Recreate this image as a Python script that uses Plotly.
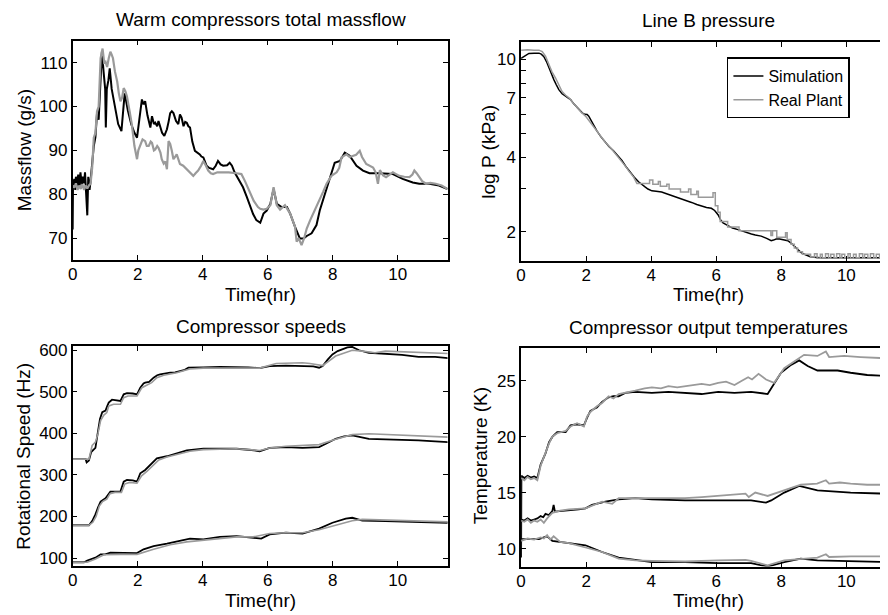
import plotly.graph_objects as go
from plotly.subplots import make_subplots

# ---------- data ----------
# Warm compressors total massflow (g/s)
mf_sim_t = [0.0, 0.01, 0.05, 0.08, 0.1, 0.14, 0.17, 0.2, 0.24, 0.28, 0.31, 0.35, 0.38, 0.41, 0.45, 0.48,
            0.52, 0.55, 0.6, 0.65, 0.7, 0.75, 0.8, 0.85, 0.9, 0.95, 1.0, 1.02, 1.05, 1.1, 1.14, 1.2, 1.3,
            1.4, 1.5, 1.56, 1.6, 1.7, 1.8, 1.9, 1.98, 2.05, 2.13, 2.18, 2.23, 2.3, 2.39, 2.44, 2.5, 2.54,
            2.6, 2.64, 2.69, 2.75, 2.82, 2.9, 2.95, 3.0, 3.05, 3.1, 3.18, 3.25, 3.3, 3.35, 3.41, 3.46,
            3.51, 3.56, 3.61, 3.68, 3.76, 3.85, 3.91, 3.96, 4.02, 4.12, 4.2, 4.32, 4.4, 4.47, 4.55, 4.63,
            4.75, 4.83, 4.9, 4.98, 5.1, 5.24, 5.35, 5.44, 5.55, 5.65, 5.77, 5.87, 5.97, 6.08, 6.18, 6.28,
            6.43, 6.59, 6.69, 6.84, 6.99, 7.1, 7.2, 7.35, 7.5, 7.6, 7.76, 7.91, 8.06, 8.22, 8.37, 8.52,
            8.73, 8.93, 9.13, 9.44, 9.85, 10.15, 10.46, 10.66, 10.97, 11.27, 11.53]
mf_sim = [72, 82, 83.5, 81, 84, 82, 84.5, 81.5, 85, 82, 84, 82.5, 85, 80, 75.2, 84,
          81, 83, 88, 91, 93, 98.5, 97, 105, 112.5, 108, 104, 95.2, 104, 106, 108.7, 104, 100,
          96, 94.4, 100, 103, 99, 96, 94, 92.9, 97, 101.6, 100.5, 101.2, 98, 95.2, 97.8, 96, 96.3,
          95.5, 96.7, 95.2, 94, 93.3, 94.8, 96.5, 98.5, 98.9, 98.5, 96.7, 96, 98.2, 97.5, 95.5, 96.5,
          96.3, 95.5, 95.2, 92, 89.9, 89.5, 89.1, 88.6, 88.4, 86.5, 86, 85.7, 86.5, 87.6, 86.8, 86.5,
          86.6, 87.2, 86.5, 85.0, 83.5, 81.6, 79.5, 77.8, 75.5, 74.1, 73.5, 75.6, 76.3, 77.8, 81.2, 77.8,
          77.1, 77.1, 75.6, 72.6, 69.9, 69.9, 70.5, 71.1, 73.0, 76.3, 80.1, 83.9, 87.2, 87.6, 89.5, 88.8,
          86.5, 85.4, 84.8, 84.8, 84.6, 83.5, 82.7, 82.4, 82.4, 82.0, 81.2]

mf_real_t = [0.0, 0.05, 0.1, 0.15, 0.2, 0.25, 0.3, 0.35, 0.4, 0.45, 0.5, 0.55, 0.6, 0.65, 0.7, 0.75,
             0.8, 0.86, 0.92, 0.97, 1.01, 1.06, 1.11, 1.16, 1.2, 1.24, 1.3, 1.37, 1.42, 1.47, 1.52, 1.57,
             1.62, 1.67, 1.75, 1.82, 1.9, 1.98, 2.02, 2.08, 2.15, 2.23, 2.28, 2.34, 2.4, 2.44, 2.5, 2.54,
             2.6, 2.64, 2.7, 2.74, 2.8, 2.85, 2.9, 2.95, 3.0, 3.05, 3.1, 3.15, 3.2, 3.25, 3.3, 3.4, 3.51,
             3.6, 3.71, 3.78, 3.86, 3.95, 4.02, 4.1, 4.17, 4.25, 4.32, 4.45, 4.63, 4.8, 5.04, 5.19, 5.3,
             5.44, 5.57, 5.7, 5.77, 5.87, 5.97, 6.08, 6.18, 6.28, 6.38, 6.53, 6.69, 6.84, 6.89, 6.95,
             7.04, 7.12, 7.2, 7.3, 7.4, 7.5, 7.6, 7.7, 7.81, 7.96, 8.12, 8.2, 8.27, 8.42, 8.52, 8.62,
             8.72, 8.83, 8.9, 9.03, 9.13, 9.24, 9.32, 9.39, 9.45, 9.49, 9.55, 9.64, 9.75, 9.85, 9.95,
             10.05, 10.2, 10.36, 10.45, 10.51, 10.58, 10.66, 10.75, 10.87, 11.0, 11.17, 11.35, 11.53]
mf_real = [82, 81.5, 82.5, 81, 82, 81.2, 82.3, 81, 82, 81.3, 82, 82.4, 86, 92.9, 94, 98.9,
           100, 111, 113.2, 110, 110.2, 109, 111, 112.5, 111.8, 111, 108, 105.7, 103, 101.2, 102, 104.2,
           103.5, 102.3, 99, 95.9, 91, 88.0, 90, 91.4, 92.5, 92.1, 91, 91.0, 92, 91.7, 90, 90.2,
           91, 90.6, 89.5, 88.0, 87, 87.5, 85.7, 92.1, 91.5, 89.9, 88, 88.5, 89.1, 88, 86.9, 86.5, 85.7,
           85, 84.2, 84.8, 85.4, 86.5, 87.6, 86.5, 85.4, 84.8, 84.6, 85, 85.0, 85, 84.8, 84.6, 83,
           80.8, 78.5, 77.1, 76.7, 76.5, 76.7, 77.5, 81.6, 77.5, 76.5, 77.5, 75.6, 72.6, 69.2, 70,
           68.4, 70, 72.2, 74, 75.6, 77, 79.0, 80.5, 82.4, 84.2, 85.0, 86, 88.4, 89.1, 88.5, 88.8,
           89, 89.9, 88.5, 86.9, 86.5, 86.1, 85, 82.4, 85.5, 85.0, 84.3, 83.9, 84.5, 85, 84.6,
           84.2, 84, 83.9, 84.5, 85.4, 84.8, 83.9, 83, 82.4, 82.6, 82.4, 82, 81.2]

# Line B pressure (kPa, log axis)
p_sim_t = [0.0, 0.1, 0.24, 0.4, 0.55, 0.62, 0.7, 0.78, 0.86, 0.94, 1.01, 1.08, 1.16, 1.26, 1.37, 1.52,
           1.62, 1.72, 1.88, 1.95, 2.03, 2.08, 2.13, 2.23, 2.33, 2.45, 2.59, 2.7, 2.84, 2.97, 3.1, 3.22,
           3.35, 3.48, 3.61, 3.71, 3.81, 3.9, 4.02, 4.15, 4.32, 4.45, 4.63, 4.78, 4.93, 5.08, 5.24, 5.4,
           5.55, 5.7, 5.85, 5.95, 6.06, 6.13, 6.21, 6.36, 6.5, 6.67, 6.85, 7.08, 7.2, 7.38, 7.55, 7.69,
           7.76, 7.84, 7.95, 8.09, 8.2, 8.3, 8.4, 8.5, 8.6, 8.71, 8.8, 8.91, 9.2, 9.6, 10.0, 10.5, 11.0, 11.5]
p_sim = [10.1, 10.3, 10.57, 10.6, 10.6, 10.5, 10.25, 9.8, 9.2, 8.7, 8.26, 7.9, 7.54, 7.25, 7.08, 6.87,
         6.6, 6.37, 6.07, 5.99, 5.98, 5.88, 5.71, 5.4, 5.13, 4.86, 4.61, 4.43, 4.26, 4.08, 3.89, 3.68,
         3.49, 3.33, 3.19, 3.1, 3.04, 2.98, 2.93, 2.92, 2.90, 2.86, 2.81, 2.77, 2.73, 2.68, 2.63, 2.58,
         2.54, 2.51, 2.49, 2.44, 2.34, 2.24, 2.17, 2.11, 2.07, 2.04, 2.0, 1.96, 1.94, 1.92, 1.88, 1.84,
         1.85, 1.87, 1.87, 1.86, 1.84, 1.80, 1.75, 1.69, 1.65, 1.62, 1.6, 1.58, 1.57, 1.57, 1.57, 1.57, 1.57, 1.57]

p_real_t = [0.0, 0.2, 0.4, 0.55, 0.65, 0.75, 0.86, 0.95, 1.06, 1.16, 1.26, 1.37, 1.47, 1.6, 1.72, 1.85,
            1.98, 2.1, 2.28, 2.45, 2.59, 2.75, 2.9, 3.05, 3.2, 3.33, 3.46, 3.56,
            3.95, 3.95, 4.05, 4.05, 4.22, 4.22, 4.28, 4.28, 4.48, 4.48, 4.55, 4.55, 4.9, 4.9, 5.15, 5.15,
            5.22, 5.22, 5.4, 5.4, 5.45, 5.45, 5.9, 5.9, 5.97, 5.97, 6.05, 6.05, 6.12, 6.12, 6.35, 6.35,
            6.7, 6.7, 7.68, 7.68, 7.73, 7.73, 7.86, 7.86, 8.13, 8.13, 8.18, 8.18, 8.3, 8.3, 8.4, 8.4,
            8.5, 8.5, 8.65, 8.65, 8.9, 8.9,
            9.02, 9.02, 9.1, 9.1, 9.2, 9.2, 9.26, 9.26, 9.36, 9.36, 9.45, 9.45, 9.52, 9.52, 9.62, 9.62,
            9.7, 9.7, 9.8, 9.8, 9.86, 9.86, 9.95, 9.95, 10.05, 10.05, 10.12, 10.12, 10.22, 10.22, 10.3,
            10.3, 10.4, 10.4, 10.5, 10.5, 10.56, 10.56, 10.66, 10.66, 10.74, 10.74, 10.84, 10.84, 10.92,
            10.92, 11.02, 11.02, 11.1, 11.1, 11.2, 11.2, 11.28, 11.28, 11.5]
p_real = [10.9, 10.95, 10.9, 10.9, 10.75, 10.3, 9.5, 8.9, 8.4, 7.85, 7.4, 7.15, 6.98, 6.65, 6.37, 6.1,
          5.89, 5.6, 5.2, 4.88, 4.61, 4.38, 4.15, 3.92, 3.7, 3.5, 3.33, 3.14,
          3.14, 3.24, 3.24, 3.12, 3.12, 3.2, 3.2, 3.06, 3.06, 3.12, 3.12, 2.98, 2.98, 2.9, 2.9, 2.98,
          2.98, 2.83, 2.83, 2.92, 2.92, 2.76, 2.76, 2.88, 2.88, 2.55, 2.55, 2.4, 2.4, 2.2, 2.2, 2.09,
          2.09, 2.02, 2.02, 1.93, 1.93, 2.02, 2.02, 1.9, 1.9, 1.98, 1.98, 1.86, 1.86, 1.78, 1.78, 1.72,
          1.72, 1.66, 1.66, 1.62, 1.62, 1.58,
          1.58, 1.63, 1.63, 1.56, 1.56, 1.62, 1.62, 1.57, 1.57, 1.63, 1.63, 1.56, 1.56, 1.62, 1.62, 1.57,
          1.57, 1.63, 1.63, 1.56, 1.56, 1.62, 1.62, 1.57, 1.57, 1.63, 1.63, 1.56, 1.56, 1.62, 1.62,
          1.57, 1.57, 1.63, 1.63, 1.56, 1.56, 1.62, 1.62, 1.57, 1.57, 1.63, 1.63, 1.56, 1.56,
          1.62, 1.62, 1.57, 1.57, 1.63, 1.63, 1.56, 1.56, 1.62, 1.62]

# Compressor speeds (Hz), three compressors
sp1_sim_t = [0, 0.4, 0.43, 0.5, 0.57, 0.65, 0.7, 0.76, 0.84, 0.91, 1.01, 1.06, 1.11, 1.21, 1.35, 1.47, 1.57,
             1.67, 1.85, 1.98, 2.08, 2.18, 2.23, 2.35, 2.49, 2.6, 2.69, 2.85, 3.0, 3.15, 3.3, 3.45, 3.56,
             3.8, 4.02, 4.53, 5.04, 5.4, 5.75, 6.06, 6.56, 7.07, 7.4, 7.58, 7.69, 7.85, 7.99, 8.15, 8.3,
             8.45, 8.6, 8.81, 9.11, 9.62, 10.13, 10.64, 11.15, 11.56]
sp1_sim = [338, 338, 330, 335, 355, 362, 365, 395, 435, 451, 455, 465, 474, 481, 480, 478, 494,
           497, 496, 494, 510, 520, 522, 524, 534, 540, 542, 545, 546, 547, 550, 553, 558,
           558, 559, 560, 560, 559, 557, 562, 563, 562, 561, 558, 562, 578, 590, 598, 603,
           607, 608, 600, 594, 592, 589, 584, 584, 581]
sp1_real_t = [0, 0.5, 0.6, 0.7, 0.78, 0.86, 0.96, 1.05, 1.11, 1.26, 1.47, 1.57, 1.7, 1.98, 2.13, 2.28, 2.43,
              2.59, 2.8, 3.2, 3.6, 4.02, 5.04, 5.75, 6.26, 7.07, 7.3, 7.69, 8.09, 8.6, 8.91, 9.3, 9.62,
              10.13, 10.64, 11.15, 11.56]
sp1_real = [338, 338, 371, 379, 400, 431, 444, 450, 466, 470, 470, 486, 490, 490, 510, 516, 522,
            534, 540, 546, 555, 557, 558, 557, 568, 570, 568, 563, 586, 600, 598, 594, 598,
            596, 594, 592, 592]

sp2_sim_t = [0, 0.5, 0.6, 0.7, 0.78, 0.86, 1.01, 1.08, 1.16, 1.47, 1.57, 1.67, 1.85, 1.98, 2.08, 2.23, 2.39,
             2.5, 2.59, 2.9, 3.2, 3.51, 4.02, 5.04, 5.5, 5.75, 6.06, 6.56, 7.07, 7.58, 7.79, 8.09, 8.35,
             8.6, 9.11, 9.62, 10.13, 10.64, 11.15, 11.56]
sp2_sim = [179, 179, 189, 205, 222, 236, 244, 252, 260, 260, 284, 288, 287, 284, 304, 312, 324,
           333, 340, 345, 351, 359, 363, 363, 360, 357, 365, 367, 365, 367, 375, 387, 393,
           395, 387, 386, 384, 383, 381, 379]
sp2_real_t = [0, 0.5, 0.62, 0.72, 0.82, 0.92, 1.05, 1.15, 1.3, 1.5, 1.6, 1.75, 1.98, 2.12, 2.3, 2.45, 2.65,
              2.9, 3.3, 3.6, 4.02, 5.04, 5.75, 6.06, 6.56, 7.07, 7.58, 8.09, 8.6, 9.11, 9.62, 10.13,
              10.64, 11.56]
sp2_real = [179, 179, 186, 200, 225, 236, 242, 255, 258, 258, 278, 282, 280, 298, 310, 322, 336,
            343, 350, 357, 361, 363, 359, 365, 369, 371, 373, 386, 397, 399, 397, 395, 393, 391]

sp3_sim_t = [0, 0.35, 0.45, 0.7, 0.86, 1.0, 1.16, 1.47, 1.67, 1.98, 2.18, 2.49, 2.9, 3.3, 3.61, 4.02, 4.53,
             5.04, 5.55, 5.8, 6.06, 6.56, 7.07, 7.58, 7.99, 8.4, 8.6, 8.91, 9.62, 10.64, 11.56]
sp3_sim = [90, 90, 94, 101, 109, 109, 113, 112, 113, 112, 121, 129, 135, 141, 147, 145, 151,
           153, 149, 147, 157, 161, 159, 171, 185, 195, 197, 190, 189, 187, 185]
sp3_real_t = [0, 0.45, 0.7, 0.96, 1.47, 1.98, 2.49, 3.0, 3.51, 4.02, 4.53, 5.04, 5.55, 6.06, 6.56, 7.07,
              7.58, 8.09, 8.6, 8.91, 9.62, 10.64, 11.56]
sp3_real = [90, 90, 98, 108, 109, 109, 121, 132, 139, 143, 147, 151, 151, 159, 161, 161,
            168, 179, 190, 193, 191, 189, 187]

# Compressor output temperatures (K), three compressors
tp1_sim_t = [0, 0.01, 0.1, 0.2, 0.3, 0.4, 0.5, 0.6, 0.75, 0.86, 0.96, 1.11, 1.37, 1.52, 1.72, 1.93, 2.03,
             2.13, 2.33, 2.49, 2.69, 2.84, 3.0, 3.2, 3.51, 4.02, 4.53, 5.04, 5.55, 6.06, 6.56, 7.07, 7.48,
             7.58, 7.99, 8.3, 8.55, 8.81, 9.11, 9.73, 10.13, 10.64, 11.25, 11.5]
tp1_sim = [9.2, 16.5, 16.3, 16.5, 16.35, 16.45, 16.3, 17.5, 18.5, 19.5, 19.97, 20.4, 20.4, 21.0, 21.1, 21.0, 21.7,
           22.3, 22.6, 23.1, 23.5, 23.6, 23.6, 23.9, 24.0, 23.9, 24.0, 23.9, 23.8, 24.0, 23.9, 24.0, 23.8,
           23.8, 25.7, 26.4, 26.8, 26.3, 25.9, 25.9, 25.7, 25.5, 25.4, 25.35]
tp1_real_t = [0, 0.1, 0.2, 0.3, 0.4, 0.5, 0.6, 0.75, 0.86, 0.96, 1.11, 1.37, 1.52, 1.72, 1.93, 2.03, 2.13,
              2.33, 2.49, 2.69, 2.84, 3.0, 3.2, 3.51, 3.8, 4.02, 4.3, 4.53, 4.8, 5.04, 5.3, 5.55, 5.8,
              6.06, 6.3, 6.56, 6.8, 6.98, 7.1, 7.3, 7.53, 7.78, 8.09, 8.5, 8.7, 9.11, 9.37, 9.47, 9.93,
              10.44, 10.95, 11.25, 11.5]
tp1_real = [16.3, 16.1, 16.4, 16.2, 16.3, 16.1, 17.4, 18.6, 19.4, 20.0, 20.3, 20.5, 20.9, 21.2, 20.9, 21.8, 22.2,
            22.7, 23.0, 23.6, 23.4, 23.8, 23.9, 24.1, 24.3, 24.4, 24.3, 24.5, 24.4, 24.5, 24.6, 24.7, 24.6,
            24.8, 24.9, 24.6, 25.0, 25.3, 25.1, 25.6, 25.1, 24.8, 26.1, 26.9, 27.3, 27.2, 27.6, 27.1, 27.2,
            27.1, 27.0, 27.0, 26.95]

tp2_sim_t = [0, 0.1, 0.2, 0.3, 0.4, 0.5, 0.6, 0.68, 0.75, 0.85, 0.96, 1.0, 1.04, 1.26, 1.77, 1.98, 2.18,
             2.59, 3.0, 3.51, 4.02, 5.04, 6.06, 7.07, 7.53, 7.69, 8.09, 8.55, 9.11, 9.62, 10.13, 11.25, 11.5]
tp2_sim = [12.6, 12.5, 12.7, 12.5, 12.6, 12.7, 12.9, 12.8, 13.1, 13.0, 13.35, 13.9, 13.3, 13.35, 13.5, 13.6, 13.9,
           14.2, 14.4, 14.5, 14.4, 14.3, 14.3, 14.3, 14.1, 14.3, 15.0, 15.6, 15.2, 15.1, 15.0, 14.9, 14.85]
tp2_real_t = [0, 0.1, 0.2, 0.3, 0.4, 0.5, 0.6, 0.7, 0.8, 0.96, 1.2, 1.47, 1.98, 2.49, 2.8, 3.0, 3.5,
              4.02, 5.04, 5.55, 6.06, 6.56, 6.9, 7.0, 7.2, 7.58, 8.09, 8.6, 9.1, 9.37, 9.47, 9.8, 10.13,
              10.64, 11.25, 11.5]
tp2_real = [12.5, 12.4, 12.6, 12.3, 12.5, 12.4, 12.6, 12.3, 12.7, 13.2, 13.4, 13.5, 13.6, 14.2, 14.0, 14.5, 14.5,
            14.5, 14.5, 14.6, 14.7, 14.8, 14.9, 14.6, 15.0, 14.7, 15.2, 15.7, 15.8, 16.1, 15.8, 15.9, 15.8,
            15.7, 15.7, 15.7]

tp3_sim_t = [0, 0.3, 0.55, 0.7, 0.8, 0.96, 1.47, 1.98, 2.49, 3.0, 3.51, 4.02, 5.04, 6.06, 7.07, 7.58,
             8.09, 8.6, 9.11, 10.13, 11.25, 11.5]
tp3_sim = [10.85, 10.85, 10.85, 11.0, 11.1, 10.7, 10.5, 10.3, 9.7, 9.2, 9.0, 8.8, 8.8, 8.7, 8.7, 8.4,
           8.8, 9.1, 8.95, 8.85, 8.8, 8.8]
tp3_real_t = [0, 0.2, 0.4, 0.6, 0.7, 0.8, 0.9, 1.0, 1.2, 1.47, 1.98, 2.49, 3.0, 3.51, 4.02, 5.04, 6.06,
              6.9, 7.07, 7.58, 8.09, 8.6, 9.11, 9.37, 9.47, 10.13, 11.25, 11.5]
tp3_real = [10.7, 10.9, 10.8, 11.0, 10.9, 11.2, 10.8, 11.1, 10.6, 10.5, 10.1, 9.7, 9.1, 8.95, 8.9, 8.85, 8.95,
            9.0, 8.9, 8.5, 8.95, 9.1, 9.2, 9.5, 9.25, 9.3, 9.3, 9.3]

x_ticks = [0, 2, 4, 6, 8, 10]
p_tickvals = [2, 3, 4, 5, 6, 7, 8, 9, 10]
p_ticktext = ['2', '', '4', '', '', '7', '', '', '10']

BLACK = '#000000'
GREY = '#9a9a9a'
FONT = 'Liberation Sans, Arial, sans-serif'

fig = make_subplots(rows=2, cols=2)

# massflow
fig.add_trace(go.Scatter(x=mf_sim_t, y=mf_sim, mode='lines', line=dict(color=BLACK, width=2),
                         showlegend=False), row=1, col=1)
fig.add_trace(go.Scatter(x=mf_real_t, y=mf_real, mode='lines', line=dict(color=GREY, width=2.2),
                         showlegend=False), row=1, col=1)

# pressure (legend lives here)
fig.add_trace(go.Scatter(x=p_sim_t, y=p_sim, mode='lines', name='Simulation',
                         line=dict(color=BLACK, width=1.5)), row=1, col=2)
fig.add_trace(go.Scatter(x=p_real_t, y=p_real, mode='lines', name='Real Plant',
                         line=dict(color=GREY, width=1.5)), row=1, col=2)

# speeds
for t_s, v_s, t_r, v_r in [(sp1_sim_t, sp1_sim, sp1_real_t, sp1_real),
                           (sp2_sim_t, sp2_sim, sp2_real_t, sp2_real),
                           (sp3_sim_t, sp3_sim, sp3_real_t, sp3_real)]:
    fig.add_trace(go.Scatter(x=t_s, y=v_s, mode='lines', line=dict(color=BLACK, width=1.8),
                             showlegend=False), row=2, col=1)
    fig.add_trace(go.Scatter(x=t_r, y=v_r, mode='lines', line=dict(color=GREY, width=1.6),
                             showlegend=False), row=2, col=1)

# temperatures
for t_s, v_s, t_r, v_r in [(tp1_sim_t, tp1_sim, tp1_real_t, tp1_real),
                           (tp2_sim_t, tp2_sim, tp2_real_t, tp2_real),
                           (tp3_sim_t, tp3_sim, tp3_real_t, tp3_real)]:
    fig.add_trace(go.Scatter(x=t_s, y=v_s, mode='lines', line=dict(color=BLACK, width=1.8),
                             showlegend=False), row=2, col=2)
    fig.add_trace(go.Scatter(x=t_r, y=v_r, mode='lines', line=dict(color=GREY, width=1.8),
                             showlegend=False), row=2, col=2)

# the page keeps the browser's 8px body margin, so the figure is drawn 8px smaller
# and every position below is given in window pixels minus that offset
OFF = 8
W, H = 888 - OFF, 615 - OFF

def px_x(a, b):
    return [(a - OFF) / W, min((b - OFF) / W, 1.0)]

def px_y(top, bottom):
    return [1 - (bottom - OFF) / H, 1 - (top - OFF) / H]

axis_style = dict(showline=True, linecolor='black', linewidth=1.5, ticks='inside', ticklen=5,
                  tickcolor='black', showgrid=False, zeroline=False,
                  tickfont=dict(family=FONT, size=17, color='black'))
xaxis_style = dict(axis_style, tickvals=x_ticks, mirror='ticks', ticklabelstandoff=-2)

# left column keeps the full box, right column is cut at the right edge of the picture
fig.update_layout(
    xaxis=dict(xaxis_style, domain=px_x(68, 445), range=[0, 11.53]),
    yaxis=dict(axis_style, domain=px_y(36, 258), range=[65, 115], tickvals=[70, 80, 90, 100, 110], mirror='ticks'),
    xaxis2=dict(xaxis_style, domain=px_x(519, 888), range=[0, 11.28]),
    yaxis2=dict(axis_style, domain=px_y(37.7, 259), type='log', range=[0.182, 1.069],
                tickvals=p_tickvals, ticktext=p_ticktext),
    xaxis3=dict(xaxis_style, domain=px_x(68, 445), range=[0, 11.53]),
    yaxis3=dict(axis_style, domain=px_y(345, 567), range=[82, 610],
                tickvals=[100, 200, 300, 400, 500, 600], mirror='ticks'),
    xaxis4=dict(xaxis_style, domain=px_x(519, 888), range=[0, 11.28]),
    yaxis4=dict(axis_style, domain=px_y(347, 568), range=[8.4, 27.9], tickvals=[10, 15, 20, 25]),
)

fig.update_layout(
    width=W, height=H,
    margin=dict(l=0, r=0, t=0, b=0),
    paper_bgcolor='white', plot_bgcolor='white',
    font=dict(family=FONT, size=19, color='black'),
    legend=dict(x=(726 - OFF) / W, y=1 - (53 - OFF) / H, xanchor='left', yanchor='top',
                bordercolor='black', borderwidth=1.5, bgcolor='white',
                font=dict(family=FONT, size=16, color='black'),
                tracegroupgap=0, itemwidth=30),
)

# titles and axis labels placed as text (window pixel positions)
labels = [
    ('Warm compressors total massflow', 257, 15, 0),
    ('Line B pressure', 707, 16, 0),
    ('Compressor speeds', 257, 325, 0),
    ('Compressor output temperatures', 707, 326, 0),
    ('Time(hr)', 257, 293, 0),
    ('Time(hr)', 707, 293, 0),
    ('Time(hr)', 257, 602, 0),
    ('Time(hr)', 707, 602, 0),
    ('Massflow (g/s)', 19, 147, -90),
    ('log P (kPa)', 486, 148, -90),
    ('Rotational Speed (Hz)', 19, 456, -90),
    ('Temperature (K)', 479, 456, -90),
]
for text, x, y, angle in labels:
    fig.add_annotation(text=text, x=(x - OFF) / W, y=1 - (y - OFF) / H, xref='paper', yref='paper',
                       xanchor='center', yanchor='middle', showarrow=False, textangle=angle,
                       font=dict(family=FONT, size=19, color='black'))

fig.write_html("out.html")
